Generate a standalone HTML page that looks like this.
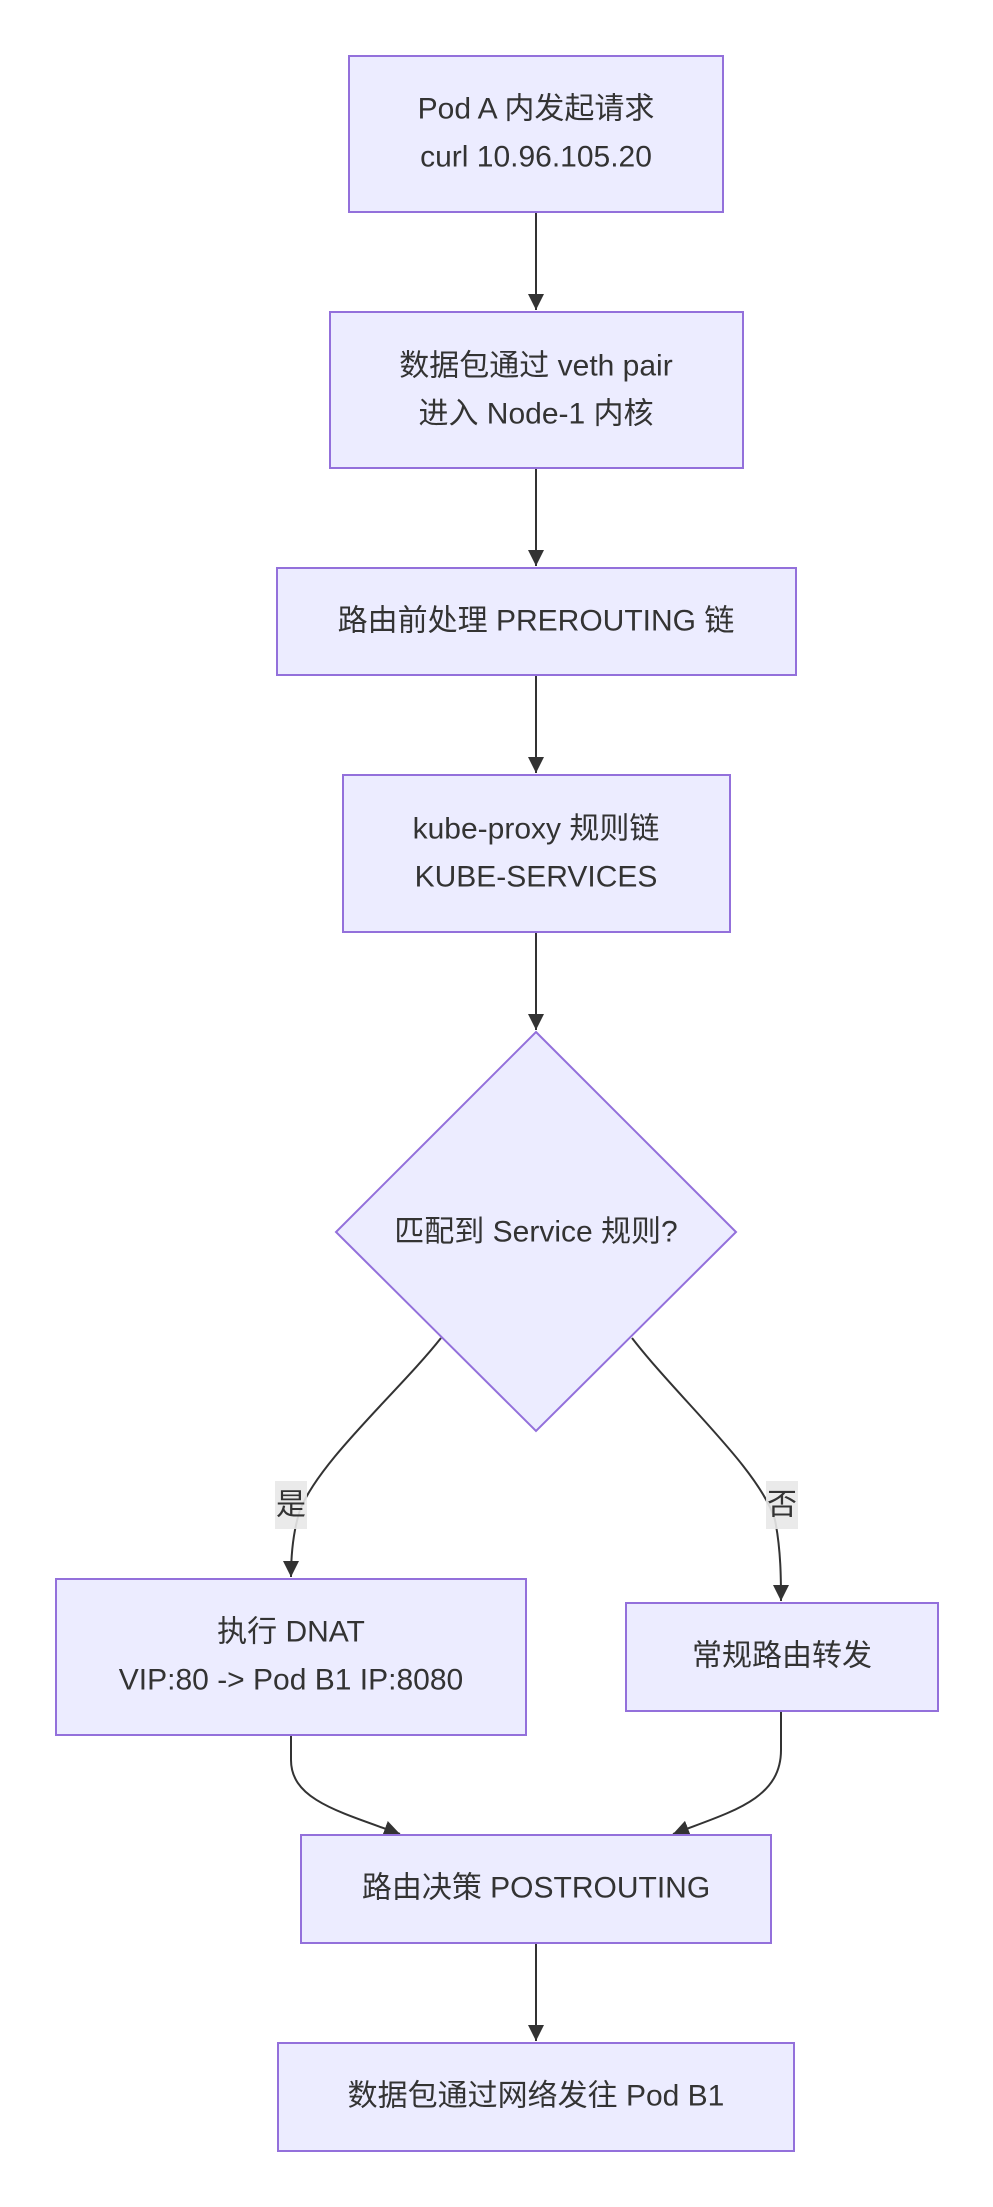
<!DOCTYPE html>
<html><head><meta charset="utf-8"><style>
html,body{margin:0;padding:0;background:#fff;}
svg{display:block;}
text{font-family:"Liberation Sans","Noto Sans CJK SC",sans-serif;font-size:30px;fill:#333;text-anchor:middle;dominant-baseline:central;}
.n{fill:#ECECFF;stroke:#9370DB;stroke-width:2;}
.e{fill:none;stroke:#333;stroke-width:2;}
</style></head><body>
<svg width="993" height="2207" viewBox="0 0 993 2207" xmlns="http://www.w3.org/2000/svg">
<defs>
<marker id="a" markerUnits="userSpaceOnUse" markerWidth="16" markerHeight="16" viewBox="0 0 10 10" refX="10" refY="5" orient="auto">
<path d="M0,0 L10,5 L0,10 z" fill="#333"/>
</marker>
</defs>
<!-- edges -->
<path class="e" d="M536,212 L536,310" marker-end="url(#a)"/>
<path class="e" d="M536,468 L536,566" marker-end="url(#a)"/>
<path class="e" d="M536,675 L536,773" marker-end="url(#a)"/>
<path class="e" d="M536,932 L536,1030" marker-end="url(#a)"/>
<path class="e" d="M441,1338 C400,1390 320,1460 300,1510 C292,1535 291,1560 291,1577" marker-end="url(#a)"/>
<path class="e" d="M632,1338 C680,1400 760,1470 775,1520 C781,1550 781,1580 781,1601" marker-end="url(#a)"/>
<path class="e" d="M291,1735 L291,1760 C291,1800 340,1812 400,1834" marker-end="url(#a)"/>
<path class="e" d="M781,1711 L781,1750 C781,1800 730,1812 673,1834" marker-end="url(#a)"/>
<path class="e" d="M536,1943 L536,2041" marker-end="url(#a)"/>
<!-- nodes -->
<rect class="n" x="349" y="56" width="374" height="156"/>
<text x="536" y="109">Pod A 内发起请求</text>
<text x="536" y="157">curl 10.96.105.20</text>
<rect class="n" x="330" y="312" width="413" height="156"/>
<text x="536" y="366">数据包通过 veth pair</text>
<text x="536" y="414">进入 Node-1 内核</text>
<rect class="n" x="277" y="568" width="519" height="107"/>
<text x="536" y="621">路由前处理 PREROUTING 链</text>
<rect class="n" x="343" y="775" width="387" height="157"/>
<text x="536" y="829">kube-proxy 规则链</text>
<text x="536" y="877">KUBE-SERVICES</text>
<polygon class="n" points="536,1032 736,1232 536,1431 336,1232"/>
<text x="536" y="1232">匹配到 Service 规则?</text>
<rect x="275" y="1481" width="32" height="48" fill="#e8e8e8" opacity="0.9"/>
<text x="291" y="1505">是</text>
<rect x="766" y="1481" width="32" height="48" fill="#e8e8e8" opacity="0.9"/>
<text x="782" y="1505">否</text>
<rect class="n" x="56" y="1579" width="470" height="156"/>
<text x="291" y="1632">执行 DNAT</text>
<text x="291" y="1680">VIP:80 -&gt; Pod B1 IP:8080</text>
<rect class="n" x="626" y="1603" width="312" height="108"/>
<text x="782" y="1656">常规路由转发</text>
<rect class="n" x="301" y="1835" width="470" height="108"/>
<text x="536" y="1888">路由决策 POSTROUTING</text>
<rect class="n" x="278" y="2043" width="516" height="108"/>
<text x="536" y="2096">数据包通过网络发往 Pod B1</text>
</svg>
</body></html>
